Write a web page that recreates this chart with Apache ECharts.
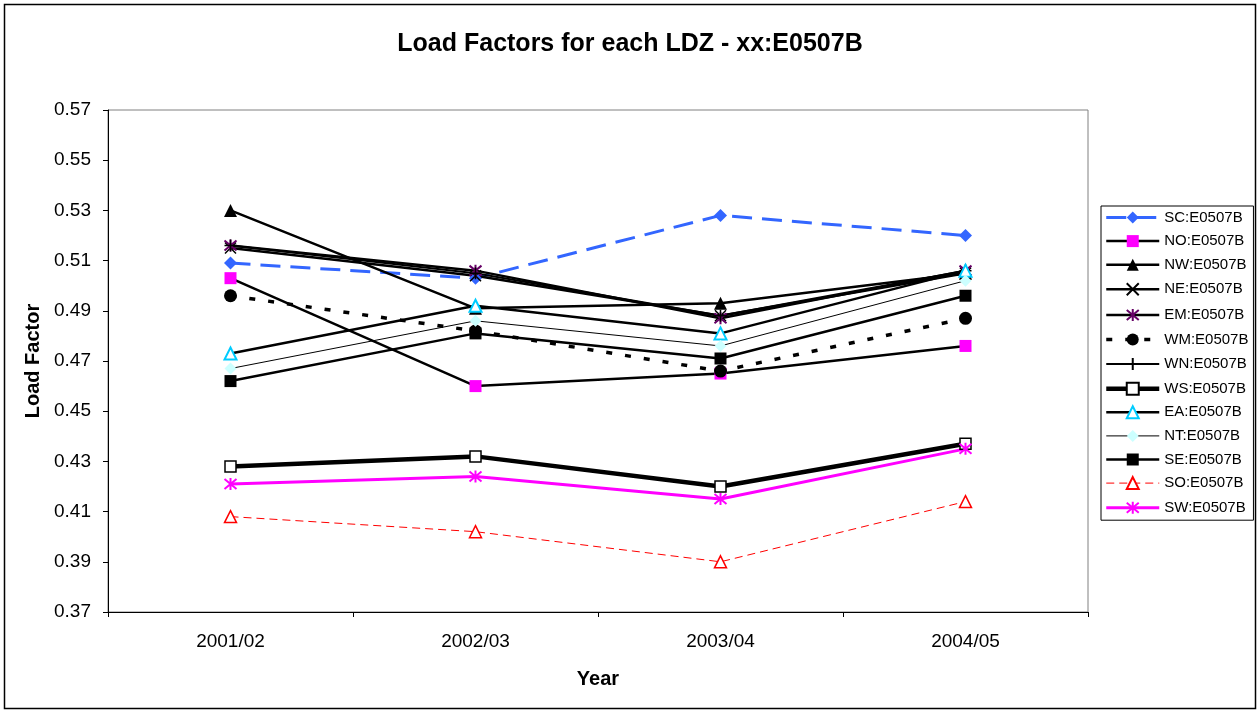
<!DOCTYPE html>
<html lang="en">
<head>
  <meta charset="UTF-8">
  <title>Load Factors for each LDZ</title>
  <style>
    html, body { margin: 0; padding: 0; background: #fff; }
  </style>
</head>
<body>
  <div id="main" style="width:1260px;height:711px;"></div>
  <script src="https://cdn.jsdelivr.net/npm/echarts@6/dist/echarts.min.js"></script>
  <script>
  var years = ['2001/02', '2002/03', '2003/04', '2004/05']
  var sc = [0.509, 0.503, 0.528, 0.520]
  var no = [0.503, 0.460, 0.465, 0.476]
  var nw = [0.530, 0.491, 0.493, 0.505]
  var ne = [0.515, 0.504, 0.488, 0.505]
  var em = [0.516, 0.506, 0.487, 0.506]
  var wm = [0.496, 0.482, 0.466, 0.487]
  var wn = [0.516, 0.505, 0.488, 0.506]
  var ws = [0.428, 0.432, 0.420, 0.437]
  var ea = [0.473, 0.492, 0.481, 0.506]
  var nt = [0.467, 0.486, 0.476, 0.502]
  var se = [0.462, 0.481, 0.471, 0.496]
  var so = [0.408, 0.402, 0.390, 0.414]
  var sw = [0.421, 0.424, 0.415, 0.435]

  var font = 'Arial, "Liberation Sans", sans-serif'
  var crossPath = 'path://M0,0L10,10M10,0L0,10'
  var starPath = 'path://M0,0L10,10M10,0L0,10M5,-1L5,11'
  var plusPath = 'path://M5,0L5,10M0,5L10,5'

  // one helper so every series reads the same way
  function line(name, data, o) {
    return {
      name: name,
      type: 'line',
      data: data,
      symbol: o.symbol,
      symbolSize: o.size || 11,
      showSymbol: true,
      lineStyle: { color: o.line, width: o.width, type: o.dash || 'solid' },
      itemStyle: {
        color: o.fill,
        borderColor: o.border || o.fill,
        borderWidth: o.bw || 0
      },
      emphasis: { disabled: true }
    }
  }

  var series = [
    line('SC:E0507B', sc, { symbol: 'diamond', size: 13, line: '#3366FF', width: 3, dash: [20, 10], fill: '#3366FF' }),
    line('NO:E0507B', no, { symbol: 'rect', size: 12, line: '#000', width: 2.5, fill: '#FF00FF' }),
    line('NW:E0507B', nw, { symbol: 'triangle', size: 13, line: '#000', width: 2.5, fill: '#000' }),
    line('NE:E0507B', ne, { symbol: crossPath, size: 11, line: '#000', width: 2.5, fill: 'none', border: '#000', bw: 1.5 }),
    line('EM:E0507B', em, { symbol: starPath, size: 12, line: '#000', width: 2.5, fill: 'none', border: '#660066', bw: 2 }),
    line('WM:E0507B', wm, { symbol: 'circle', size: 13, line: '#000', width: 3.5, dash: [6, 13], fill: '#000' }),
    line('WN:E0507B', wn, { symbol: plusPath, size: 12, line: '#000', width: 2, fill: 'none', border: '#000', bw: 1.5 }),
    line('WS:E0507B', ws, { symbol: 'rect', size: 11, line: '#000', width: 4.5, fill: '#fff', border: '#000', bw: 1.5 }),
    line('EA:E0507B', ea, { symbol: 'triangle', size: 12, line: '#000', width: 2.5, fill: '#fff', border: '#00CCFF', bw: 2 }),
    line('NT:E0507B', nt, { symbol: 'diamond', size: 12, line: '#000', width: 1, fill: '#CCFFFF' }),
    line('SE:E0507B', se, { symbol: 'rect', size: 12, line: '#000', width: 2.5, fill: '#000' }),
    line('SO:E0507B', so, { symbol: 'triangle', size: 12, line: '#FF0000', width: 1, dash: [8, 5], fill: '#fff', border: '#FF0000', bw: 1.5 }),
    line('SW:E0507B', sw, { symbol: starPath, size: 12, line: '#FF00FF', width: 3, fill: 'none', border: '#FF00FF', bw: 2 })
  ]

  var myChart = echarts.init(document.getElementById('main'))
  var option = {
    animation: false,
    backgroundColor: '#fff',
    textStyle: { fontFamily: font },
    title: {
      text: 'Load Factors for each LDZ - xx:E0507B',
      left: 'center',
      top: 27,
      textStyle: { fontFamily: font, fontSize: 25, fontWeight: 'bold', color: '#000' }
    },
    graphic: [{
      type: 'rect',
      shape: { x: 4.5, y: 4.5, width: 1251, height: 704 },
      style: { fill: 'none', stroke: '#000', lineWidth: 1.5 },
      silent: true
    }],
    legend: {
      orient: 'vertical',
      left: 1101,
      top: 206,
      padding: [4, 5, 4, 3],
      itemGap: 8.6,
      itemWidth: 53,
      itemHeight: 15,
      borderColor: '#000',
      borderWidth: 1,
      backgroundColor: '#fff',
      selectedMode: false,
      lineStyle: { width: 'inherit' },
      textStyle: { fontFamily: font, fontSize: 15, color: '#000', lineHeight: 14 },
      data: series.map(function (s) { return s.name })
    },
    grid: {
      left: 108, top: 110, width: 980, height: 502,
      show: true, borderColor: '#808080', borderWidth: 1, backgroundColor: '#fff'
    },
    xAxis: {
      type: 'category',
      data: years,
      boundaryGap: true,
      name: 'Year',
      nameLocation: 'middle',
      nameGap: 57,
      nameTextStyle: { fontFamily: font, fontSize: 20, fontWeight: 'bold', color: '#000' },
      axisLine: { lineStyle: { color: '#000', width: 1 } },
      axisTick: { show: true, length: 5, lineStyle: { color: '#000' } },
      axisLabel: { fontFamily: font, fontSize: 19, color: '#000', margin: 20 },
      splitLine: { show: false }
    },
    yAxis: {
      type: 'value',
      min: 0.37,
      max: 0.57,
      interval: 0.02,
      name: 'Load Factor',
      nameLocation: 'middle',
      nameRotate: 90,
      nameGap: 59,
      nameTextStyle: { fontFamily: font, fontSize: 20, fontWeight: 'bold', color: '#000' },
      axisLine: { show: true, lineStyle: { color: '#000', width: 1 } },
      axisTick: { show: true, length: 5, lineStyle: { color: '#000' } },
      axisLabel: {
        fontFamily: font, fontSize: 19, color: '#000', margin: 17,
        formatter: function (v) { return v.toFixed(2) }
      },
      splitLine: { show: false }
    },
    series: series
  }
  myChart.setOption(option)
  </script>
</body>
</html>
